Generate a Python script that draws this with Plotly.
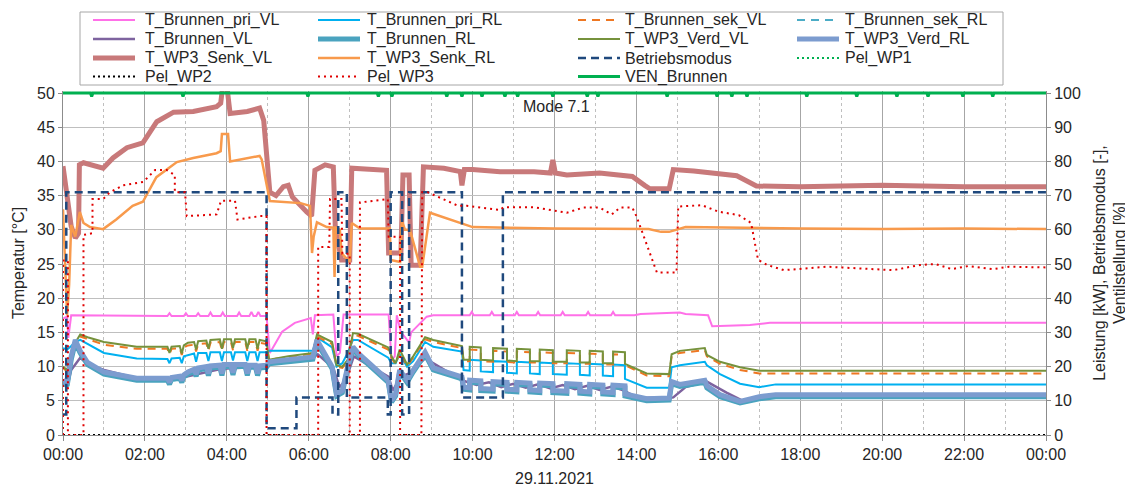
import pandas as pd
import plotly.graph_objects as go

# ---------------- data (hours since 29.11.2021 00:00) ----------------
# shared time grid for the lower temperature group
T_LOW = [0, 0.1, 0.2, 0.3, 0.42, 0.6, 1.0, 1.8,
         2.55, 2.6, 2.65, 2.85, 2.9, 2.95,
         3.05, 3.2,
         3.25, 3.3, 3.5,
         3.55, 3.6, 3.83,
         3.88, 3.93, 4.1,
         4.15, 4.2, 4.45,
         4.5, 4.55, 4.7,
         4.75, 4.8, 4.97,
         5.03, 5.5, 6.1,
         6.2, 6.57, 6.68,
         6.82, 6.95, 7.08, 7.2,
         7.94, 8.02, 8.12, 8.22, 8.4, 8.55, 8.84, 9.04,
         9.74, 9.78,
         9.93, 9.93, 10.2, 10.2, 10.5, 10.5, 10.84, 10.84, 11.08, 11.08, 11.4, 11.4,
         11.64, 11.64, 11.96, 11.96, 12.3, 12.3, 12.62, 12.62, 12.86, 12.86,
         13.18, 13.18, 13.43, 13.43, 13.72, 13.72,
         14.25, 14.8, 14.86, 15.06, 15.67, 15.72, 16.04, 16.53, 17.0, 17.4, 24.0]

T_WP3_VERD_VL = [10.0, 9.5, 12.0, 13.5, 14.7, 14.3, 13.6, 12.9,
                 12.9, 12.0, 12.9, 13.0, 11.9, 13.1,
                 13.5, 13.6,
                 12.5, 13.7, 13.8,
                 12.6, 13.9, 14.0,
                 12.6, 14.0, 14.0,
                 12.7, 14.0, 14.0,
                 12.6, 14.0, 14.0,
                 12.6, 13.9, 13.7,
                 11.0, 11.5, 12.0,
                 14.7, 13.6, 10.2,
                 10.0, 11.0, 14.9, 14.8,
                 12.8, 11.5, 10.5, 12.5, 10.3, 11.5, 14.3, 13.9,
                 13.0, 11.0,
                 11.0, 12.9, 12.8, 11.0, 10.9, 12.7, 12.6, 10.9, 10.8, 12.6, 12.5, 10.8,
                 10.8, 12.5, 12.4, 10.7, 10.7, 12.4, 12.3, 10.6, 10.6, 12.3,
                 12.2, 10.5, 10.5, 12.2, 12.1, 10.4,
                 9.0, 8.9, 11.8, 12.3, 12.7, 11.7, 10.7, 9.9, 9.4, 9.4, 9.4]

T_BRUNNEN_SEK_VL = [9.8, 9.3, 11.8, 13.3, 14.4, 14.0, 13.2, 12.6,
                    12.6, 11.8, 12.6, 12.7, 11.7, 12.8,
                    13.1, 13.2,
                    12.2, 13.3, 13.4,
                    12.3, 13.5, 13.6,
                    12.3, 13.6, 13.6,
                    12.4, 13.6, 13.6,
                    12.3, 13.6, 13.6,
                    12.3, 13.5, 13.3,
                    11.0, 11.4, 11.9,
                    14.4, 13.3, 10.0,
                    9.8, 10.8, 14.6, 14.5,
                    12.5, 11.3, 10.3, 12.2, 10.1, 11.3, 14.0, 13.6,
                    12.7, 10.8,
                    10.8, 12.5, 12.4, 10.8, 10.7, 12.3, 12.2, 10.7, 10.6, 12.2, 12.1, 10.6,
                    10.6, 12.1, 12.0, 10.5, 10.5, 12.0, 11.9, 10.4, 10.4, 11.9,
                    11.8, 10.3, 10.3, 11.8, 11.7, 10.2,
                    8.7, 8.6, 11.5, 12.0, 12.4, 11.5, 10.4, 9.5, 9.0, 9.0, 9.0]

T_BRUNNEN_PRI_RL = [12.7, 12.5, 13.0, 13.6, 13.9, 13.3, 12.0, 11.2,
                    11.1, 10.5, 11.2, 11.3, 10.5, 11.5,
                    11.7, 11.9,
                    10.7, 12.0, 12.0,
                    10.8, 12.1, 12.1,
                    10.8, 12.1, 12.1,
                    10.9, 12.1, 12.1,
                    10.8, 12.1, 12.1,
                    10.8, 12.1, 12.1,
                    12.3, 12.3, 12.3,
                    14.3, 12.8, 10.0,
                    10.5, 12.0, 13.9, 13.9,
                    11.3, 10.5, 10.5, 11.8, 10.0, 10.8, 13.6, 12.9,
                    12.2, 9.5,
                    9.4, 11.0, 10.9, 9.3, 9.2, 10.8, 10.7, 9.1, 9.0, 10.7, 10.6, 9.0,
                    8.9, 10.6, 10.5, 8.9, 8.8, 10.5, 10.4, 8.8, 8.7, 10.4,
                    10.3, 8.7, 8.6, 10.3, 10.2, 8.2,
                    6.9, 6.9, 9.9, 10.2, 10.7, 10.2, 8.9, 7.5, 7.0, 7.4, 7.4]

T_WP3_VERD_RL = [8.0, 7.5, 11.5, 13.9, 12.3, 10.6, 9.2, 8.3,
                 8.3, 7.7, 8.4, 8.6, 8.0, 8.8,
                 9.2, 9.6,
                 8.9, 9.8, 10.0,
                 9.0, 10.1, 10.2,
                 9.0, 10.3, 10.3,
                 9.1, 10.3, 10.3,
                 9.0, 10.2, 10.2,
                 9.0, 10.1, 10.2,
                 10.7, 11.0, 11.4,
                 13.9, 10.0, 6.0,
                 6.5, 10.0, 12.9, 12.0,
                 8.0, 5.0, 6.0, 9.5, 8.0, 9.5, 12.1, 9.8,
                 8.5, 7.0,
                 6.9, 8.0, 7.9, 6.8, 6.7, 7.8, 7.7, 6.7, 6.6, 7.7, 7.6, 6.6,
                 6.5, 7.6, 7.5, 6.5, 6.4, 7.5, 7.4, 6.4, 6.3, 7.4,
                 7.3, 6.3, 6.2, 7.3, 7.2, 6.0,
                 5.3, 5.4, 7.8, 7.4, 8.0, 7.2, 5.9, 4.9, 5.6, 5.9, 5.9]

T_BRUNNEN_RL = [7.7, 7.2, 11.0, 13.5, 12.0, 10.3, 8.9, 8.0,
                8.0, 7.4, 8.1, 8.3, 7.7, 8.5,
                8.9, 9.3,
                8.6, 9.5, 9.7,
                8.7, 9.8, 9.9,
                8.7, 10.0, 10.0,
                8.8, 10.0, 10.0,
                8.7, 9.9, 9.9,
                8.7, 9.8, 9.9,
                10.4, 10.7, 11.1,
                13.5, 9.7, 5.7,
                6.2, 9.7, 12.6, 11.7,
                7.7, 4.8, 5.7, 9.2, 7.7, 9.2, 11.8, 9.5,
                8.2, 6.7,
                6.6, 7.7, 7.6, 6.5, 6.4, 7.5, 7.4, 6.4, 6.3, 7.4, 7.3, 6.3,
                6.2, 7.3, 7.2, 6.2, 6.1, 7.2, 7.1, 6.1, 6.0, 7.1,
                7.0, 6.0, 5.9, 7.0, 6.9, 5.7,
                5.0, 5.1, 7.5, 7.1, 7.7, 6.9, 5.6, 4.7, 5.3, 5.6, 5.6]

T_BRUNNEN_SEK_RL = [7.8, 7.3, 11.2, 13.6, 12.1, 10.4, 9.0, 8.1,
                    8.1, 7.5, 8.2, 8.4, 7.8, 8.6,
                    9.0, 9.4,
                    8.7, 9.6, 9.8,
                    8.8, 9.9, 10.0,
                    8.8, 10.1, 10.1,
                    8.9, 10.1, 10.1,
                    8.8, 10.0, 10.0,
                    8.8, 9.9, 10.0,
                    10.5, 10.8, 11.2,
                    13.6, 9.8, 5.8,
                    6.3, 9.8, 12.7, 11.8,
                    7.8, 4.9, 5.8, 9.3, 7.8, 9.3, 11.9, 9.6,
                    8.3, 6.8,
                    6.7, 7.8, 7.7, 6.6, 6.5, 7.6, 7.5, 6.5, 6.4, 7.5, 7.4, 6.4,
                    6.3, 7.4, 7.3, 6.3, 6.2, 7.3, 7.2, 6.2, 6.1, 7.2,
                    7.1, 6.1, 6.0, 7.1, 7.0, 5.8,
                    5.1, 5.2, 7.6, 7.2, 7.8, 7.0, 5.7, 4.8, 5.4, 5.7, 5.7]

T_VL_BR = [0, 0.1, 0.2, 0.42, 0.6, 1.0, 1.8, 2.5, 3.05, 3.9, 4.95, 5.03, 6.1, 6.22,
           6.6, 6.75, 6.9, 7.1, 7.95, 8.05, 8.25, 8.45, 8.84, 9.74, 10.1, 10.4, 10.7,
           11.0, 11.3, 11.6, 11.9, 12.2, 12.5, 12.8, 13.1, 13.4, 13.7, 14.0, 14.8,
           14.9, 15.2, 15.72, 16.2, 16.6, 17.0, 17.8, 24.0]
T_BRUNNEN_VL = [7.5, 7.0, 9.5, 11.3, 10.4, 9.5, 8.3, 8.1, 8.6, 9.7, 10.0, 10.6, 11.3, 11.8,
                9.8, 7.0, 8.0, 11.5, 8.5, 6.5, 8.5, 9.0, 11.2, 8.0, 7.3, 7.7, 7.0,
                7.5, 6.9, 7.4, 6.8, 7.3, 6.7, 7.2, 6.6, 7.1, 6.5, 5.5, 5.4,
                5.5, 7.0, 7.8, 6.2, 5.0, 5.5, 5.7, 5.7]

T_PRI_VL = [0, 0.1, 0.13, 0.2,
            2.55, 2.6, 2.65, 2.95, 3.0, 3.05, 3.25, 3.3, 3.35,
            3.55, 3.6, 3.65, 3.85, 3.9, 3.95, 4.25, 4.3, 4.35,
            4.55, 4.6, 4.65, 4.72, 4.77, 4.82,
            4.97, 5.05, 5.35, 5.66,
            6.05, 6.1, 6.15,
            6.6, 6.68, 6.76, 6.85,
            7.95, 8.02, 8.1, 8.15,
            8.25, 8.35, 8.45, 8.5,
            8.88, 9.04,
            9.93, 9.98, 10.03, 10.42, 10.47, 10.52, 11.03, 11.08, 11.13,
            11.55, 11.6, 11.65, 12.15, 12.2, 12.25, 12.77, 12.82, 12.87,
            13.38, 13.43, 13.48,
            13.95, 14.1, 15.06, 15.2, 15.75, 15.85, 16.77, 17.26, 24.0]
T_BRUNNEN_PRI_VL = [17.0, 17.3, 14.2, 17.5,
                    17.4, 17.8, 17.4, 17.4, 17.8, 17.4, 17.4, 17.8, 17.4,
                    17.4, 17.9, 17.4, 17.4, 17.9, 17.4, 17.4, 17.9, 17.4,
                    17.4, 18.0, 17.4, 17.4, 18.0, 17.4,
                    17.4, 12.0, 15.1, 16.4,
                    17.1, 14.7, 17.5,
                    17.6, 11.5, 12.0, 17.6,
                    17.6, 11.0, 11.5, 17.5,
                    15.0, 14.3, 13.5, 15.0,
                    17.3, 17.5,
                    17.5, 18.0, 17.5, 17.5, 18.0, 17.5, 17.5, 18.0, 17.5,
                    17.5, 18.0, 17.5, 17.5, 18.0, 17.5, 17.5, 18.0, 17.5,
                    17.5, 18.0, 17.5,
                    17.5, 17.7, 17.9, 17.7, 17.5, 15.9, 16.1, 16.4, 16.4]

T_SENK_VL = [0, 0.09, 0.2, 0.3, 0.38, 0.4, 0.5, 0.98, 1.22, 1.56, 1.95, 2.29, 2.7, 3.18,
             3.75, 3.85, 3.9, 4.0, 4.08, 4.5, 4.8, 4.9, 5.05, 5.2, 5.38, 5.5, 5.6, 5.95,
             6.07, 6.15, 6.4, 6.6, 6.65, 6.8, 7.0, 7.05, 7.5, 7.9, 7.95, 8.25, 8.3, 8.45,
             8.5, 8.72, 8.8, 9.3, 9.7, 9.74, 9.8, 10.0, 10.67, 11.5, 11.9, 11.96, 12.02,
             12.3, 13.1, 13.9, 14.2, 14.33, 14.8, 14.9, 15.4, 16.45, 16.93, 18.0, 20.0,
             22.0, 24.0]
T_WP3_SENK_VL = [39.3, 35.0, 30.5, 28.8, 29.5, 39.5, 39.8, 39.0, 40.5, 42.0, 42.7, 45.8, 47.2, 47.3,
                 48.0, 48.5, 51.0, 51.0, 47.0, 47.3, 47.8, 46.0, 35.5, 35.0, 36.3, 36.5, 34.8, 32.6,
                 32.0, 38.7, 39.5, 39.2, 30.0, 25.6, 25.6, 39.0, 38.8, 38.7, 26.6, 26.6, 38.0, 38.0,
                 24.8, 24.8, 39.2, 39.0, 38.5, 36.5, 38.8, 38.8, 38.5, 38.5, 38.3, 40.2, 38.3,
                 38.0, 38.3, 37.8, 36.5, 36.0, 36.0, 38.8, 38.6, 37.9, 36.4, 36.3, 36.5,
                 36.3, 36.3]

T_SENK_RL = [0, 0.05, 0.1, 0.15, 0.2, 0.3, 0.41, 0.5, 0.66, 0.98, 1.3, 1.7, 1.95, 2.28, 2.78,
             3.18, 3.75, 3.85, 3.88, 4.03, 4.08, 4.8, 4.85, 5.05, 5.8, 6.03, 6.08, 6.12, 6.2,
             6.44, 6.6, 6.63, 6.66, 6.76, 6.8, 7.0, 7.05, 7.25, 7.98, 8.0, 8.23, 8.27, 8.35,
             8.47, 8.72, 8.77, 8.96, 10.0, 12.0, 14.3, 14.6, 14.8, 15.2, 18.0, 20.0, 22.0, 24.0]
T_WP3_SENK_RL = [33.0, 25.0, 17.5, 22.0, 30.7, 29.0, 32.6, 31.0, 30.4, 30.1, 31.5, 33.5, 34.1, 37.7, 39.9,
                 40.5, 41.2, 41.5, 44.0, 44.0, 40.0, 40.8, 40.3, 34.2, 33.9, 33.5, 26.6, 29.0, 31.1,
                 30.4, 30.3, 23.1, 30.3, 30.0, 26.6, 25.3, 31.0, 30.2, 30.2, 25.6, 25.3, 31.4, 30.0,
                 30.0, 24.6, 24.6, 32.5, 30.4, 30.2, 30.1, 29.7, 29.7, 30.4, 30.2, 30.1, 30.2, 30.1]

# right axis series
T_MODE = [0, 0.08, 0.08, 4.97, 4.97, 5.7, 5.7, 6.58, 6.58, 6.72, 6.72, 6.93, 6.93, 7.93, 7.93,
          8.0, 8.0, 8.28, 8.28, 8.45, 8.45, 9.74, 9.74, 10.74, 10.74, 24.0]
BETRIEBSMODUS = [6, 6, 71, 71, 2, 2, 11, 11, 6, 6, 71, 71, 11, 11, 6,
                 6, 71, 71, 6, 6, 71, 71, 11, 11, 71, 71]

T_PEL3 = [0, 0, 0.12, 0.12, 0.5, 0.5, 0.72, 0.72, 0.98, 1.15, 1.47, 1.96, 2.25, 2.53, 2.73, 2.73,
          2.98, 3.02, 3.75, 3.86, 4.2, 4.26, 4.8, 4.97, 4.97, 6.23, 6.23, 6.5, 6.52, 6.8, 6.82,
          7.0, 7.0, 7.25, 7.25, 7.93, 7.95, 8.23, 8.23, 8.75, 8.77, 8.9, 9.37, 9.65, 9.86, 10.67,
          10.75, 11.5, 12.3, 12.7, 13.1, 13.4, 13.6, 13.9, 14.0, 14.25, 14.5, 14.98, 15.02, 15.6,
          16.0, 16.5, 16.7, 16.8, 16.97, 17.2, 17.6, 18.65, 20.27, 20.92, 21.3, 21.7, 22.1, 22.7,
          23.1, 24.0]
PEL_WP3 = [0, 51, 51, 0, 0, 58.5, 59, 69, 69, 71, 73, 74, 77.5, 77.5, 76, 71,
           71, 64, 64.5, 68.5, 68.5, 63, 64, 64, 0, 0, 55, 55, 69, 69, 53,
           53, 0, 0, 68, 69, 58, 58, 0, 0, 71, 71, 68.5, 67, 67, 65.8,
           66.6, 66.6, 65, 66.5, 66.5, 64.5, 66.5, 66.5, 64, 56, 47.5, 47.5, 66.8, 67.2,
           65.3, 64.3, 62.9, 62, 51.2, 49.7, 48.2, 49.2, 48.2, 49.7, 50, 48.5, 49.4, 48.5,
           49.2, 49.0]

T_PEL12 = [0, 24.0]
PEL_WP1 = [0, 0]
PEL_WP2 = [0, 0]

T_VEN = [0, 0.67, 0.7, 0.73, 2.9, 2.93, 2.96, 5.95, 5.98, 6.01, 7.67, 7.7, 7.73, 8.0, 8.03, 8.06,
         9.34, 9.37, 9.4, 9.71, 9.74, 9.77, 10.2, 10.23, 10.26, 10.76, 10.79, 10.82, 11.07, 11.1,
         11.13, 11.93, 11.96, 11.99, 12.77, 12.8, 12.83, 13.03, 13.06, 13.09, 14.72, 14.75, 14.78,
         15.94, 15.97, 16.0, 16.3, 16.33, 16.36, 16.67, 16.7, 16.73, 18.13, 18.16, 18.19, 19.35,
         19.38, 19.41, 20.33, 20.36, 20.39, 21.09, 21.12, 21.15, 21.94, 21.97, 22.0, 22.67, 22.7,
         22.73, 24.0]
VEN_BRUNNEN = [100, 100, 99, 100, 100, 99, 100, 100, 99, 100, 100, 99, 100, 100, 99, 100,
               100, 99, 100, 100, 99, 100, 100, 99, 100, 100, 99, 100, 100, 99,
               100, 100, 99, 100, 100, 99, 100, 100, 99, 100, 100, 99, 100,
               100, 99, 100, 100, 99, 100, 100, 99, 100, 100, 99, 100, 100,
               99, 100, 100, 99, 100, 100, 99, 100, 100, 99, 100, 100, 99,
               100, 100]

X_TICK_STEP_H = 2
MODE_LABEL = "Mode 7.1"
X_TITLE = "29.11.2021"
Y_TITLE = "Temperatur [°C]"
Y2_TITLE = "Leistung [kW], Betriebsmodus [-],<br>Ventilstellung [%]"

# ---------------- styles ----------------
STYLE = {
    "T_Brunnen_pri_VL": dict(color="#FF70E8", width=2, dash="solid"),
    "T_Brunnen_pri_RL": dict(color="#00B0F0", width=2, dash="solid"),
    "T_Brunnen_sek_VL": dict(color="#EE7722", width=2, dash="8px,6px"),
    "T_Brunnen_sek_RL": dict(color="#4BACC6", width=2, dash="8px,6px"),
    "T_Brunnen_VL": dict(color="#7E639F", width=2.5, dash="solid"),
    "T_Brunnen_RL": dict(color="#4AA3BF", width=5, dash="solid"),
    "T_WP3_Verd_VL": dict(color="#76923C", width=2, dash="solid"),
    "T_WP3_Verd_RL": dict(color="#7C9CCF", width=5, dash="solid"),
    "T_WP3_Senk_VL": dict(color="#C8797A", width=5, dash="solid"),
    "T_WP3_Senk_RL": dict(color="#F89A4C", width=2.5, dash="solid"),
    "Betriebsmodus": dict(color="#1F497D", width=2.5, dash="8px,5px"),
    "Pel_WP1": dict(color="#00B050", width=2, dash="2px,3px"),
    "Pel_WP2": dict(color="#000000", width=2, dash="2px,3px"),
    "Pel_WP3": dict(color="#E00000", width=2, dash="2px,4px"),
    "VEN_Brunnen": dict(color="#00B050", width=3, dash="solid"),
}

BASE = pd.Timestamp("2021-11-29 00:00")


def tt(hours):
    return [BASE + pd.Timedelta(hours=h) for h in hours]


SERIES = [
    ("T_Brunnen_pri_VL", T_PRI_VL, T_BRUNNEN_PRI_VL, "y"),
    ("T_Brunnen_pri_RL", T_LOW, T_BRUNNEN_PRI_RL, "y"),
    ("T_Brunnen_sek_VL", T_LOW, T_BRUNNEN_SEK_VL, "y"),
    ("T_Brunnen_sek_RL", T_LOW, T_BRUNNEN_SEK_RL, "y"),
    ("T_Brunnen_VL", T_VL_BR, T_BRUNNEN_VL, "y"),
    ("T_Brunnen_RL", T_LOW, T_BRUNNEN_RL, "y"),
    ("T_WP3_Verd_VL", T_LOW, T_WP3_VERD_VL, "y"),
    ("T_WP3_Verd_RL", T_LOW, T_WP3_VERD_RL, "y"),
    ("T_WP3_Senk_VL", T_SENK_VL, T_WP3_SENK_VL, "y"),
    ("T_WP3_Senk_RL", T_SENK_RL, T_WP3_SENK_RL, "y"),
    ("Betriebsmodus", T_MODE, BETRIEBSMODUS, "y2"),
    ("Pel_WP1", T_PEL12, PEL_WP1, "y2"),
    ("Pel_WP2", T_PEL12, PEL_WP2, "y2"),
    ("Pel_WP3", T_PEL3, PEL_WP3, "y2"),
    ("VEN_Brunnen", T_VEN, VEN_BRUNNEN, "y2"),
]

fig = go.Figure()
for name, t, v, ax in SERIES:
    assert len(t) == len(v), (name, len(t), len(v))
    st = STYLE[name]
    fig.add_trace(go.Scatter(
        x=tt(t), y=v, name=name, mode="lines", yaxis=ax,
        line=dict(color=st["color"], width=st["width"], dash=st["dash"]),
        showlegend=False, hoverinfo="skip",
    ))

FONT = "Liberation Sans, Arial, sans-serif"
TXT = "#262626"
AXC = "#8C8C8C"

# ---------------- geometry (page pixels; the page body adds an 8 px offset) ----------------
OFF = 8
FIG_W, FIG_H = 1133 - OFF, 488 - OFF
PL, PR, PB = 63, 1046, 435          # plot area left/right/bottom in page pixels
PT = 91                              # plot top (a little above the 50/100 line)
Y_TOP_L = 50 + (93 - PT) / 6.84      # left range top so that 50 sits at y=93
Y_TOP_R = 2 * Y_TOP_L


def px(x):
    return (x - PL) / (PR - PL)


def py(y):
    return (PB - y) / (PB - PT)


LEG_ORDER = [
    ["T_Brunnen_pri_VL", "T_Brunnen_pri_RL", "T_Brunnen_sek_VL", "T_Brunnen_sek_RL"],
    ["T_Brunnen_VL", "T_Brunnen_RL", "T_WP3_Verd_VL", "T_WP3_Verd_RL"],
    ["T_WP3_Senk_VL", "T_WP3_Senk_RL", "Betriebsmodus", "Pel_WP1"],
    ["Pel_WP2", "Pel_WP3", "VEN_Brunnen"],
]
COL_LINE = [93, 318, 578, 797]
COL_TEXT = [143, 365, 623, 843]
ROW_Y = [20, 39, 58, 76.5]

shapes = [dict(type="rect", xref="paper", yref="paper",
               x0=px(80), x1=px(1003), y0=py(85), y1=py(12),
               line=dict(color="#A6A6A6", width=1), fillcolor="white", layer="above")]
annotations = []
for r, row in enumerate(LEG_ORDER):
    for c, name in enumerate(row):
        st = STYLE[name]
        shapes.append(dict(type="line", xref="paper", yref="paper",
                           x0=px(COL_LINE[c]), x1=px(COL_LINE[c] + 42),
                           y0=py(ROW_Y[r]), y1=py(ROW_Y[r]),
                           line=dict(color=st["color"], width=min(st["width"], 5), dash=st["dash"]),
                           layer="above"))
        annotations.append(dict(text=name, xref="paper", yref="paper",
                                x=px(COL_TEXT[c]), y=py(ROW_Y[r]), xanchor="left", yanchor="middle",
                                showarrow=False, font=dict(size=16, color=TXT, family=FONT)))

annotations.append(dict(text=MODE_LABEL, x=BASE + pd.Timedelta(hours=12.05), y=48, xref="x", yref="y",
                        showarrow=False, font=dict(size=16, color=TXT, family=FONT)))

fig.update_layout(
    width=FIG_W, height=FIG_H,
    margin=dict(l=PL - OFF, r=OFF + FIG_W - PR, t=PT - OFF, b=OFF + FIG_H - PB, pad=0, autoexpand=False),
    paper_bgcolor="white", plot_bgcolor="white",
    font=dict(family=FONT, size=16, color=TXT),
    showlegend=False,
    shapes=shapes, annotations=annotations,
    xaxis=dict(
        type="date", range=[BASE, BASE + pd.Timedelta(hours=24)],
        dtick=X_TICK_STEP_H * 3600000, tick0=BASE, tickformat="%H:%M",
        showgrid=True, gridcolor="#A6A6A6", gridwidth=1,
        minor=dict(dtick=3600000, showgrid=True, gridcolor="#BFBFBF", griddash="dot", gridwidth=1),
        ticks="outside", ticklen=5, tickcolor=AXC,
        showline=True, linecolor=AXC, linewidth=1, mirror=False,
        tickfont=dict(size=16, color=TXT),
        title=dict(text=X_TITLE, font=dict(size=16, color=TXT), standoff=10),
        zeroline=False,
    ),
    yaxis=dict(
        range=[0, Y_TOP_L], tickvals=list(range(0, 51, 5)), showgrid=True, gridcolor="#BFBFBF", gridwidth=1,
        showline=True, linecolor=AXC, linewidth=1, ticks="outside", ticklen=4, tickcolor=AXC,
        tickfont=dict(size=16, color=TXT), zeroline=False,
        title=dict(text=Y_TITLE, font=dict(size=16, color=TXT), standoff=8),
    ),
    yaxis2=dict(
        range=[0, Y_TOP_R], tickvals=list(range(0, 101, 10)), overlaying="y", side="right", showgrid=False,
        showline=True, linecolor=AXC, linewidth=1, ticks="outside", ticklen=4, tickcolor=AXC,
        tickfont=dict(size=16, color=TXT), zeroline=False,
        title=dict(text=Y2_TITLE, font=dict(size=16, color=TXT), standoff=13),
    ),
)

fig.write_html("out.html", config={"displayModeBar": False})
